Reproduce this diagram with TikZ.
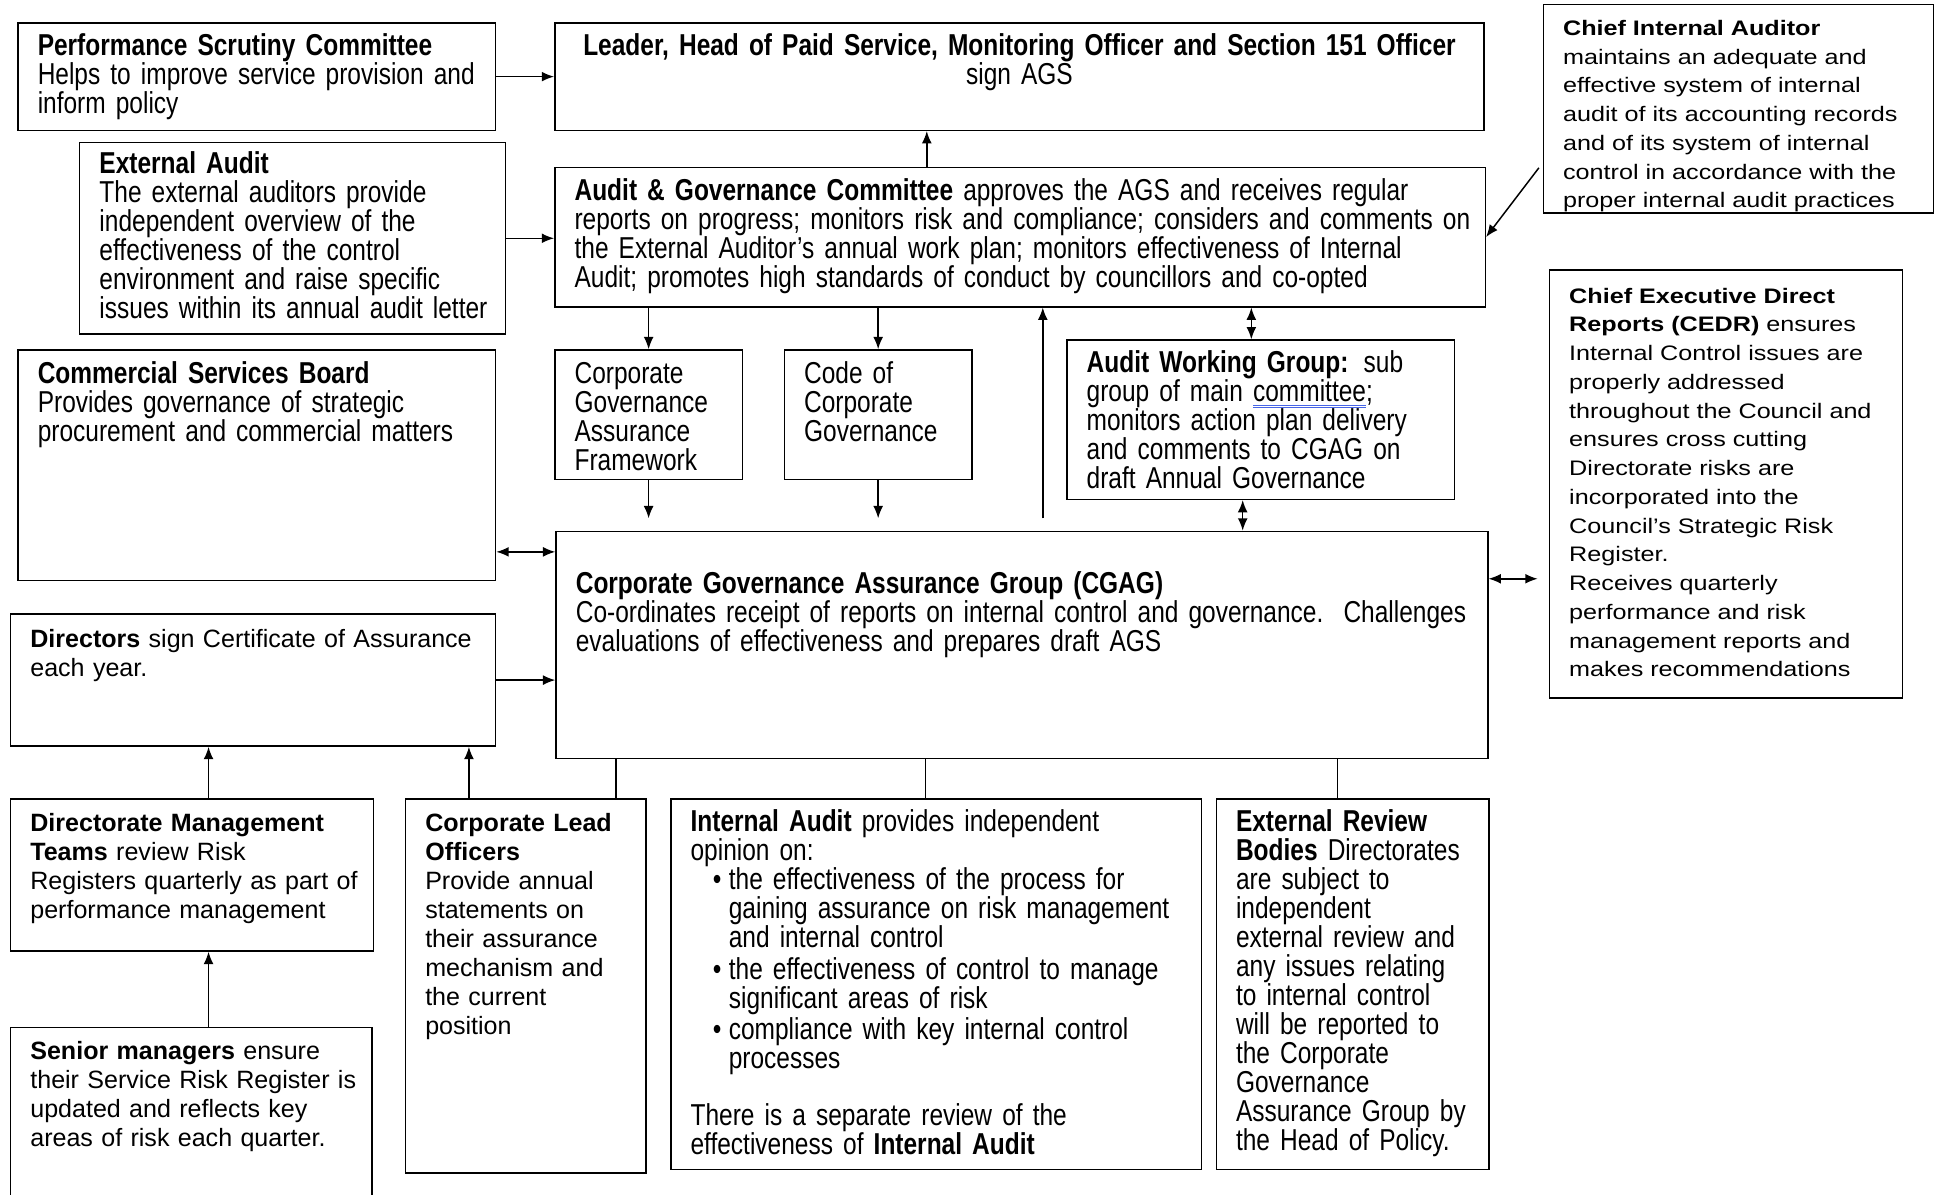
\documentclass[tikz,border=0pt]{standalone}
\usepackage{fontspec}
\setmainfont{Liberation Sans}
\newfontfamily\tallfamily[FakeStretch=0.81]{Liberation Sans}
\newfontfamily\widefamily[FakeStretch=1.2]{Liberation Sans}
\usetikzlibrary{arrows.meta}

\newcommand{\talltext}{\tallfamily\fontsize{24.5}{23.5}\selectfont}
\newcommand{\plaintext}{\fontsize{20.3}{23.5}\selectfont}
\newcommand{\widetext}{\widefamily\fontsize{17}{23.3}\selectfont}
% Word's grammar mark under a word
\newcommand{\wordmark}[1]{\setbox0=\hbox{#1}\rlap{\color[RGB]{70,100,230}\rule[-3.5pt]{\wd0}{0.8pt}\hspace{-\wd0}\rule[-5.5pt]{\wd0}{0.8pt}}#1}

\tikzset{
  panel/.style={draw, line width=1.2pt, anchor=north west, inner xsep=16pt, inner ysep=0pt, text height=26pt,
    execute at begin node={\rightskip=-60pt plus 1fil\relax\lineskiplimit=-20pt\hyphenpenalty=10000\relax}},
  middle/.style={execute at begin node={\leftskip=-30pt plus 1fil\rightskip=-30pt plus 1fil\parfillskip=0pt\relax\lineskiplimit=-20pt\hyphenpenalty=10000\relax}},
  arr/.style={-{Latex[length=10pt,width=8pt]}, line width=1.2pt},
  dblarr/.style={{Latex[length=10pt,width=8pt]}-{Latex[length=10pt,width=8pt]}, line width=1.2pt},
  link/.style={line width=1.2pt}
}

\begin{document}
\begin{tikzpicture}[x=1pt, y=-1pt]
\useasboundingbox (0,0) rectangle (1568,968);

% top row
\node (perf) [panel, font=\talltext, text width=355pt, text depth=61pt] at (14,18)
  {\textbf{Performance Scrutiny Committee}\\Helps to improve service provision and\\inform policy};
\node (leader) [panel, middle, font=\talltext, text width=721pt, text depth=61pt] at (449,18)
  {\textbf{Leader, Head of Paid Service, Monitoring Officer and Section 151 Officer}\\sign AGS};
\node (cia) [panel, font=\widetext, text width=284pt, text height=25pt, text depth=144pt] at (1250,3)
  {\textbf{Chief Internal Auditor}\\maintains an adequate and\\effective system of internal\\audit of its accounting records\\and of its system of internal\\control in accordance with the\\proper internal audit practices};

\node (extaudit) [panel, font=\talltext, text width=313pt, text height=25pt, text depth=130pt] at (64,115)
  {\textbf{External Audit}\\The external auditors provide\\independent overview of the\\effectiveness of the control\\environment and raise specific\\issues within its annual audit letter};
\node (agc) [panel, font=\talltext, text width=722pt, text height=27pt, text depth=86pt] at (449,135)
  {\textbf{Audit \& Governance Committee} approves the AGS and receives regular\\reports on progress; monitors risk and compliance; considers and comments on\\the External Auditor’s annual work plan; monitors effectiveness of Internal\\Audit; promotes high standards of conduct by councillors and co-opted};

% middle
\node (csb) [panel, font=\talltext, text width=355pt, text height=27pt, text depth=160pt] at (14,283)
  {\textbf{Commercial Services Board}\\Provides governance of strategic\\procurement and commercial matters};
\node (cgaf) [panel, font=\talltext, text width=120pt, text height=27pt, text depth=78pt] at (449,283)
  {Corporate\\Governance\\Assurance\\Framework};
\node (ccg) [panel, font=\talltext, text width=120pt, text height=27pt, text depth=78pt] at (635,283)
  {Code of\\Corporate\\Governance};
\node (awg) [panel, font=\talltext, text width=282pt, text depth=103pt] at (864,275)
  {\textbf{Audit Working Group:} sub\\group of main \wordmark{committee};\\monitors action plan delivery\\and comments to CGAG on\\draft Annual Governance};
\node (cedr) [panel, font=\widetext, text width=254pt, text height=27pt, text depth=320pt] at (1255,218)
  {\textbf{Chief Executive Direct}\\\textbf{Reports (CEDR)} ensures\\Internal Control issues are\\properly addressed\\throughout the Council and\\ensures cross cutting\\Directorate risks are\\incorporated into the\\Council’s Strategic Risk\\Register.\\Receives quarterly\\performance and risk\\management reports and\\makes recommendations};

\node (cgag) [panel, font=\talltext, text width=723pt, text height=50pt, text depth=134pt] at (450,430)
  {\textbf{Corporate Governance Assurance Group (CGAG)}\\Co-ordinates receipt of reports on internal control and governance.\ \ Challenges\\evaluations of effectiveness and prepares draft AGS};
\node (directors) [panel, font=\plaintext, text width=361pt, text height=27pt, text depth=80pt] at (8,497)
  {\textbf{Directors} sign Certificate of Assurance\\each year.};

% bottom row
\node (dmt) [panel, font=\plaintext, text width=262pt, text depth=97pt] at (8,647)
  {\textbf{Directorate Management}\\\textbf{Teams} review Risk\\Registers quarterly as part of\\performance management};
\node (clo) [panel, font=\plaintext, text width=163pt, text depth=277pt] at (328,647)
  {\textbf{Corporate Lead}\\\textbf{Officers}\\Provide annual\\statements on\\their assurance\\mechanism and\\the current\\position};
\node (ia) [panel, font=\talltext, text width=398pt, text depth=274pt] at (543,647)
  {\textbf{Internal Audit} provides independent\\opinion on:\\
   \makebox[31pt][r]{\textbullet\hspace{6pt}}the effectiveness of the process for\\
   \hspace*{31pt}gaining assurance on risk management\\
   \hspace*{31pt}and internal control\\[3pt]
   \makebox[31pt][r]{\textbullet\hspace{6pt}}the effectiveness of control to manage\\
   \hspace*{31pt}significant areas of risk\\[1pt]
   \makebox[31pt][r]{\textbullet\hspace{6pt}}compliance with key internal control\\
   \hspace*{31pt}processes\\[23pt]
   There is a separate review of the\\effectiveness of \textbf{Internal Audit}};
\node (erb) [panel, font=\talltext, text width=189pt, text depth=274pt] at (985,647)
  {\textbf{External Review}\\\textbf{Bodies} Directorates\\are subject to\\independent\\external review and\\any issues relating\\to internal control\\will be reported to\\the Corporate\\Governance\\Assurance Group by\\the Head of Policy.};
\node (senior) [panel, font=\plaintext, text width=261pt, text depth=134pt] at (8,832)
  {\textbf{Senior managers} ensure\\their Service Risk Register is\\updated and reflects key\\areas of risk each quarter.};

% connectors
\coordinate (agcTop) at ([xshift=302pt]agc.north west);
\coordinate (cgagUp) at ([xshift=395pt]cgag.north west);
\coordinate (awgTop) at ([xshift=150pt]awg.north west);
\coordinate (awgBot) at ([xshift=143pt]awg.south west);
\coordinate (csbSide) at ([yshift=24pt]csb.south east);
\coordinate (cgagSide) at ([yshift=-39pt]cgag.north east);
\coordinate (dmtTop) at ([xshift=161pt]dmt.north west);
\coordinate (cloTop) at ([xshift=52pt]clo.north west);
\coordinate (cloLink) at ([xshift=171pt]clo.north west);
\coordinate (iaLink) at ([xshift=207pt]ia.north west);
\coordinate (erbLink) at ([xshift=99pt]erb.north west);
\coordinate (seniorTop) at ([xshift=161pt]senior.north west);

\draw[arr] (perf.east) -- (leader.west);
\draw[arr] (agcTop) -- (agcTop |- leader.south);
\draw[arr] (extaudit.east) -- (extaudit.east -| agc.west);
\draw[arr] ([shift={(-3pt,-133pt)}]cia.north west) -- (agc.east);
\draw[arr] (agc.south -| cgaf.north) -- (cgaf.north);
\draw[arr] (agc.south -| ccg.north) -- (ccg.north);
\draw[arr, shorten >=10pt] (cgaf.south) -- (cgaf.south |- cgag.north);
\draw[arr, shorten >=10pt] (ccg.south) -- (ccg.south |- cgag.north);
\draw[arr, shorten <=10pt] (cgagUp) -- (cgagUp |- agc.south);
\draw[dblarr] (awgTop) -- (awgTop |- agc.south);
\draw[dblarr] (awgBot) -- (awgBot |- cgag.north);
\draw[dblarr] (csbSide) -- (csbSide -| cgag.west);
\draw[dblarr, shorten >=9pt] (cgagSide) -- (cgagSide -| cedr.west);
\draw[arr] (directors.east) -- (directors.east -| cgag.west);
\draw[arr] (dmtTop) -- (dmtTop |- directors.south);
\draw[arr] (cloTop) -- (cloTop |- directors.south);
\draw[arr] (seniorTop) -- (seniorTop |- dmt.south);
\draw[link] (cloLink) -- (cloLink |- cgag.south);
\draw[link] (iaLink) -- (iaLink |- cgag.south);
\draw[link] (erbLink) -- (erbLink |- cgag.south);
\end{tikzpicture}
\end{document}
